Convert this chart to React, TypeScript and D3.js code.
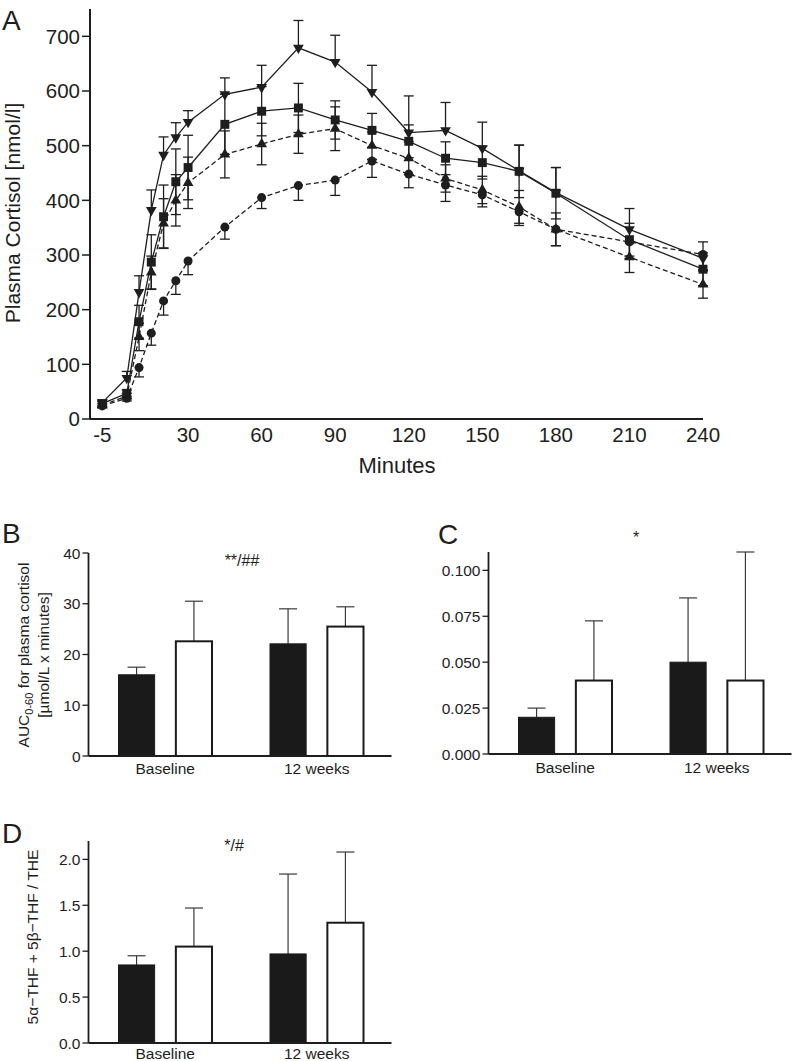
import React from "react";
import * as d3 from "d3";

// ---------- Panel A data ----------
const times = [-5, 5, 10, 15, 20, 25, 30, 45, 60, 75, 90, 105, 120, 135, 150, 165, 180, 210, 240];
const xTicksA = [-5, 30, 60, 90, 120, 150, 180, 210, 240];
const yTicksA = [0, 100, 200, 300, 400, 500, 600, 700];

const triDownMean = [30, 75, 232, 382, 483, 515, 543, 594, 607, 679, 653, 598, 524, 528, 495, 454, 414, 347, 294];
const triDownErr = [5, 12, 30, 37, 33, 27, 21, 30, 40, 50, 49, 49, 67, 51, 48, 47, 46, 38, 30];
const squareMean = [28, 47, 178, 287, 370, 434, 460, 539, 563, 569, 547, 528, 508, 477, 469, 453, 413, 328, 274];
const squareErr = [4, 6, 30, 50, 58, 60, 59, 55, 45, 45, 35, 31, 30, 30, 30, 48, 47, 30, 30];
const triUpMean = [25, 42, 150, 268, 358, 400, 432, 484, 503, 521, 531, 500, 477, 440, 419, 388, 347, 296, 246];
const triUpErr = [3, 5, 25, 30, 45, 47, 47, 43, 38, 35, 40, 25, 30, 25, 25, 30, 30, 28, 25];
const circleMean = [24, 38, 94, 157, 216, 253, 289, 351, 405, 427, 437, 472, 448, 428, 410, 379, 347, 324, 301];
const circleErr = [3, 5, 17, 22, 26, 25, 25, 22, 20, 27, 28, 30, 25, 30, 22, 25, 30, 30, 28];

// ---------- Bar panel data ----------
const groups = ["Baseline", "12 weeks"];
const barKinds = ["filled", "open"];

const aucFilled = [16.0, 22.1];
const aucFilledErr = [1.5, 6.9];
const aucOpen = [22.6, 25.5];
const aucOpenErr = [7.9, 3.9];
const aucTicks = [0, 10, 20, 30, 40];

const cFilled = [0.02, 0.05];
const cFilledErr = [0.005, 0.035];
const cOpen = [0.04, 0.04];
const cOpenErr = [0.0325, 0.07];
const cTicks = [0, 0.025, 0.05, 0.075, 0.1];

const dFilled = [0.85, 0.97];
const dFilledErr = [0.1, 0.87];
const dOpen = [1.05, 1.31];
const dOpenErr = [0.42, 0.77];
const dTicks = [0, 0.5, 1.0, 1.5, 2.0];

const FONT = "'Liberation Sans', Arial, Helvetica, sans-serif";
const INK = "#1e1e1e";

type Series = {
  mean: number[];
  err: number[];
  symbol: d3.SymbolType;
  rotate: number;
  size: number;
  dashed: boolean;
  dir: "up" | "down" | "both";
};

const seriesA: Series[] = [
  { mean: circleMean, err: circleErr, symbol: d3.symbolCircle, rotate: 0, size: 64, dashed: true, dir: "down" },
  { mean: triUpMean, err: triUpErr, symbol: d3.symbolTriangle, rotate: 0, size: 50, dashed: true, dir: "both" },
  { mean: squareMean, err: squareErr, symbol: d3.symbolSquare, rotate: 0, size: 80, dashed: false, dir: "both" },
  { mean: triDownMean, err: triDownErr, symbol: d3.symbolTriangle, rotate: 180, size: 50, dashed: false, dir: "up" },
];

function PanelA() {
  const x = d3.scaleLinear().domain([-10, 240]).range([90, 703]);
  const y = d3.scaleLinear().domain([0, 750]).range([419, 9]);
  const cap = 5;
  return (
    <g>
      <text x={2} y={30} fontSize={28} fontFamily={FONT} fill={INK}>A</text>
      {/* axes */}
      <line x1={x(-10)} x2={x(-10)} y1={y(750)} y2={y(0)} stroke={INK} strokeWidth={2} />
      <line x1={x(-10)} x2={x(240)} y1={y(0)} y2={y(0)} stroke={INK} strokeWidth={2} />
      {yTicksA.map((t) => (
        <g key={"yt" + t}>
          <line x1={x(-10) - 8} x2={x(-10)} y1={y(t)} y2={y(t)} stroke={INK} strokeWidth={1.5} />
          <text x={x(-10) - 10} y={y(t)} dy="0.36em" textAnchor="end" fontSize={20.5} fontFamily={FONT} fill={INK}>
            {t}
          </text>
        </g>
      ))}
      {xTicksA.map((t) => (
        <text key={"xt" + t} x={x(t)} y={y(0) + 23} textAnchor="middle" fontSize={20.5} fontFamily={FONT} fill={INK}>
          {t}
        </text>
      ))}
      <text x={397} y={473} textAnchor="middle" fontSize={22} fontFamily={FONT} fill={INK}>Minutes</text>
      <text transform={`translate(20,213) rotate(-90)`} textAnchor="middle" fontSize={21} fontFamily={FONT} fill={INK}>
        Plasma Cortisol [nmol/l]
      </text>
      {/* error bars */}
      {seriesA.map((s, si) =>
        times.map((t, i) => {
          const m = s.mean[i];
          const e = s.err[i];
          const top = s.dir === "down" ? m : m + e;
          const bot = s.dir === "up" ? m : m - e;
          return (
            <g key={`e${si}-${i}`} stroke={INK} strokeWidth={1.3}>
              <line x1={x(t)} x2={x(t)} y1={y(top)} y2={y(bot)} />
              {s.dir !== "down" && <line x1={x(t) - cap} x2={x(t) + cap} y1={y(top)} y2={y(top)} />}
              {s.dir !== "up" && <line x1={x(t) - cap} x2={x(t) + cap} y1={y(bot)} y2={y(bot)} />}
            </g>
          );
        })
      )}
      {/* lines */}
      {seriesA.map((s, si) => {
        const line = d3
          .line<number>()
          .x((_, i) => x(times[i]))
          .y((v) => y(v));
        return (
          <path
            key={"l" + si}
            d={line(s.mean) || ""}
            fill="none"
            stroke={INK}
            strokeWidth={1.3}
            strokeDasharray={s.dashed ? "5,3" : undefined}
          />
        );
      })}
      {/* markers */}
      {seriesA.map((s, si) => {
        const sym = d3.symbol().type(s.symbol).size(s.size)() || "";
        return times.map((t, i) => (
          <path
            key={`m${si}-${i}`}
            d={sym}
            transform={`translate(${x(t)},${y(s.mean[i])}) rotate(${s.rotate})`}
            fill={INK}
          />
        ));
      })}
    </g>
  );
}

type BarProps = {
  left: number;
  right: number;
  bottom: number;
  top: number;
  ymax: number;
  ticks: number[];
  fmt: (v: number) => string;
  filled: number[];
  filledErr: number[];
  open: number[];
  openErr: number[];
  letter: string;
  letterX: number;
  letterY: number;
  note: string;
  noteX: number;
  noteY: number;
  labelLines?: React.ReactNode[];
  labelX?: number[];
  labelY?: number;
  tickFont: number;
  catY: number;
};

function BarPanel(p: BarProps) {
  const y = d3.scaleLinear().domain([0, p.ymax]).range([p.bottom, p.top]);
  const xg = d3.scaleBand<string>().domain(groups).range([p.left, p.right]).padding(0);
  const xi = d3
    .scaleBand<string>()
    .domain(barKinds)
    .range([30, xg.bandwidth() - 28])
    .paddingInner(0.37);
  const vals: Record<string, number[]> = { filled: p.filled, open: p.open };
  const errs: Record<string, number[]> = { filled: p.filledErr, open: p.openErr };
  const cap = 9;
  return (
    <g fontFamily={FONT} fill={INK}>
      <text x={p.letterX} y={p.letterY} fontSize={28}>{p.letter}</text>
      <text x={p.noteX} y={p.noteY} textAnchor="middle" fontSize={16}>{p.note}</text>
      {groups.map((g, gi) =>
        barKinds.map((k) => {
          const bx = (xg(g) || 0) + (xi(k) || 0);
          const bw = xi.bandwidth();
          const v = vals[k][gi];
          const e = errs[k][gi];
          const cx = bx + bw / 2;
          return (
            <g key={g + k}>
              <line x1={cx} x2={cx} y1={y(v)} y2={y(v + e)} stroke="#3a3a3a" strokeWidth={1.2} />
              <line x1={cx - cap} x2={cx + cap} y1={y(v + e)} y2={y(v + e)} stroke="#3a3a3a" strokeWidth={1.2} />
              <rect
                x={bx}
                y={y(v)}
                width={bw}
                height={p.bottom - y(v)}
                fill={k === "filled" ? "#1a1a1a" : "#ffffff"}
                stroke="#1a1a1a"
                strokeWidth={k === "filled" ? 1 : 2}
              />
            </g>
          );
        })
      )}
      <line x1={p.left} x2={p.left} y1={p.top} y2={p.bottom} stroke={INK} strokeWidth={1.8} />
      <line x1={p.left} x2={p.right} y1={p.bottom} y2={p.bottom} stroke={INK} strokeWidth={1.8} />
      {p.ticks.map((t) => (
        <g key={"t" + t}>
          <line x1={p.left - 6} x2={p.left} y1={y(t)} y2={y(t)} stroke={INK} strokeWidth={1.3} />
          <text x={p.left - 8} y={y(t)} dy="0.36em" textAnchor="end" fontSize={p.tickFont}>
            {p.fmt(t)}
          </text>
        </g>
      ))}
      {groups.map((g) => (
        <text key={"g" + g} x={(xg(g) || 0) + xg.bandwidth() / 2 + 1} y={p.catY} textAnchor="middle" fontSize={15.5}>
          {g}
        </text>
      ))}
      {p.labelLines &&
        p.labelLines.map((ln, i) => (
          <text
            key={"lab" + i}
            transform={`translate(${p.labelX![i]},${p.labelY}) rotate(-90)`}
            textAnchor="middle"
            fontSize={15.5}
          >
            {ln}
          </text>
        ))}
    </g>
  );
}

export default function App() {
  return (
    <svg
      width={793}
      height={1061}
      viewBox="0 0 793 1061"
      style={{ position: "absolute", left: 0, top: 0, background: "#fff" }}
    >
      <rect x={0} y={0} width={793} height={1061} fill="#fff" />
      <PanelA />
      <BarPanel
        left={88.5}
        right={391.5}
        bottom={756}
        top={553}
        ymax={40}
        ticks={aucTicks}
        fmt={(v) => d3.format("d")(v)}
        filled={aucFilled}
        filledErr={aucFilledErr}
        open={aucOpen}
        openErr={aucOpenErr}
        letter="B"
        letterX={2}
        letterY={543}
        note="**/##"
        noteX={242}
        noteY={566}
        labelLines={[
          <>
            AUC<tspan fontSize={11} dy={4}>0-60</tspan>
            <tspan dy={-4}> for plasma cortisol</tspan>
          </>,
          <>[µmol/L x minutes]</>,
        ]}
        labelX={[29, 49]}
        labelY={655}
        tickFont={15.5}
        catY={774}
      />
      <BarPanel
        left={488.5}
        right={791.5}
        bottom={754}
        top={552}
        ymax={0.11}
        ticks={cTicks}
        fmt={(v) => d3.format(".3f")(v)}
        filled={cFilled}
        filledErr={cFilledErr}
        open={cOpen}
        openErr={cOpenErr}
        letter="C"
        letterX={438}
        letterY={544}
        note="*"
        noteX={636}
        noteY={543}
        tickFont={15.5}
        catY={773}
      />
      <BarPanel
        left={88.5}
        right={391.5}
        bottom={1043}
        top={841}
        ymax={2.2}
        ticks={dTicks}
        fmt={(v) => d3.format(".1f")(v)}
        filled={dFilled}
        filledErr={dFilledErr}
        open={dOpen}
        openErr={dOpenErr}
        letter="D"
        letterX={2}
        letterY={843}
        note="*/#"
        noteX={234}
        noteY={851}
        labelLines={[<>5α−THF + 5β−THF / THE</>]}
        labelX={[38]}
        labelY={937}
        tickFont={15.5}
        catY={1059}
      />
    </svg>
  );
}
